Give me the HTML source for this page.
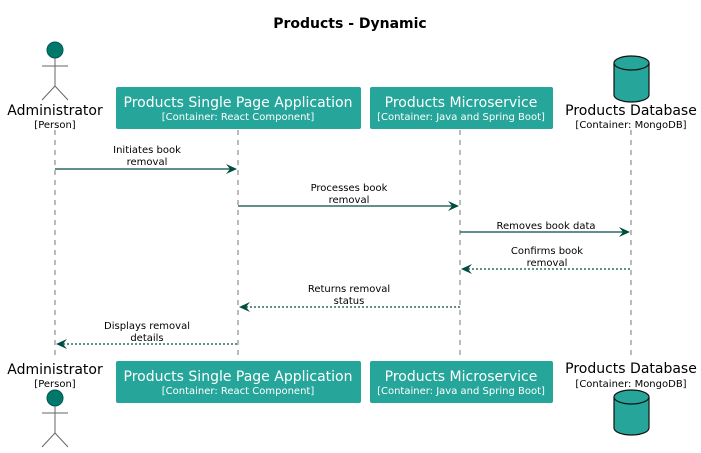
<!DOCTYPE html>
<html><head><meta charset="utf-8"><style>body{margin:0;background:#fff}svg{display:block}text{font-family:"DejaVu Sans","Liberation Sans",sans-serif}</style></head><body>
<svg width="701" height="453" viewBox="0 0 701 453" xmlns="http://www.w3.org/2000/svg">
<text x="350" y="28" text-anchor="middle" font-size="14" font-weight="bold">Products - Dynamic</text>
<g stroke="#777" stroke-dasharray="5,5" stroke-width="1">
<line x1="55" y1="130" x2="55" y2="356"/><line x1="238" y1="130" x2="238" y2="360"/>
<line x1="460" y1="130" x2="460" y2="360"/><line x1="631" y1="130" x2="631" y2="356"/>
</g>
<!-- top actor -->
<circle cx="55" cy="50" r="8" fill="#00796b" stroke="#055" />
<g stroke="#666" fill="none"><line x1="55" y1="58" x2="55" y2="86"/><line x1="42" y1="66" x2="68" y2="66"/><polyline points="42,100 55,86 68,100"/></g>
<text x="55" y="115" text-anchor="middle" font-size="14">Administrator</text>
<text x="55" y="128" text-anchor="middle" font-size="10">[Person]</text>
<!-- bottom actor -->
<circle cx="55" cy="398" r="8" fill="#00796b" stroke="#055"/>
<g stroke="#666" fill="none"><line x1="55" y1="406" x2="55" y2="433"/><line x1="42" y1="413" x2="68" y2="413"/><polyline points="42,447 55,433 68,447"/></g>
<text x="55" y="374" text-anchor="middle" font-size="14">Administrator</text>
<text x="55" y="387" text-anchor="middle" font-size="10">[Person]</text>
<!-- boxes -->
<g fill="#26a69a">
<rect x="116" y="87" width="245" height="42" rx="2"/><rect x="370" y="87" width="183" height="42" rx="2"/>
<rect x="116" y="361" width="245" height="42" rx="2"/><rect x="370" y="361" width="183" height="42" rx="2"/>
</g>
<g fill="#fff" text-anchor="middle">
<text x="238" y="107" font-size="14">Products Single Page Application</text><text x="238" y="120" font-size="10">[Container: React Component]</text>
<text x="461" y="107" font-size="14">Products Microservice</text><text x="461" y="120" font-size="10">[Container: Java and Spring Boot]</text>
<text x="238" y="381" font-size="14">Products Single Page Application</text><text x="238" y="394" font-size="10">[Container: React Component]</text>
<text x="461" y="381" font-size="14">Products Microservice</text><text x="461" y="394" font-size="10">[Container: Java and Spring Boot]</text>
</g>
<!-- DB -->
<g fill="#26a69a" stroke="#111" stroke-width="1.2">
<path d="M614,63 v32 a17.5,7 0 0 0 35,0 v-32"/><ellipse cx="631.5" cy="63" rx="17.5" ry="7"/>
<path d="M614,397 v31 a17.5,7 0 0 0 35,0 v-31"/><ellipse cx="631.5" cy="397" rx="17.5" ry="7"/>
</g>
<text x="631" y="115" text-anchor="middle" font-size="14">Products Database</text>
<text x="631" y="128" text-anchor="middle" font-size="10">[Container: MongoDB]</text>
<text x="631" y="373" text-anchor="middle" font-size="14">Products Database</text>
<text x="631" y="387" text-anchor="middle" font-size="10">[Container: MongoDB]</text>
<!-- messages -->
<g stroke="#004d40" stroke-width="1.2" fill="none">
<line x1="55" y1="169" x2="234" y2="169"/>
<line x1="238" y1="206" x2="456" y2="206"/>
<line x1="460" y1="232" x2="627" y2="232"/>
<line x1="464" y1="269" x2="631" y2="269" stroke-dasharray="2,2"/>
<line x1="242" y1="307" x2="460" y2="307" stroke-dasharray="2,2"/>
<line x1="59" y1="344" x2="238" y2="344" stroke-dasharray="2,2"/>
</g>
<g fill="#004d40">
<polygon points="226,164 237,169 226,174 230,169"/>
<polygon points="448,201 459,206 448,211 452,206"/>
<polygon points="619,227 630,232 619,237 623,232"/>
<polygon points="472,264 461,269 472,274 468,269"/>
<polygon points="250,302 239,307 250,312 246,307"/>
<polygon points="67,339 56,344 67,349 63,344"/>
</g>
<g font-size="10" text-anchor="middle">
<text x="147" y="153">Initiates book</text><text x="147" y="165">removal</text>
<text x="349" y="191">Processes book</text><text x="349" y="203">removal</text>
<text x="546" y="229">Removes book data</text>
<text x="547" y="254">Confirms book</text><text x="547" y="266">removal</text>
<text x="349" y="292">Returns removal</text><text x="349" y="304">status</text>
<text x="147" y="329">Displays removal</text><text x="147" y="341">details</text>
</g>
</svg>
</body></html>
